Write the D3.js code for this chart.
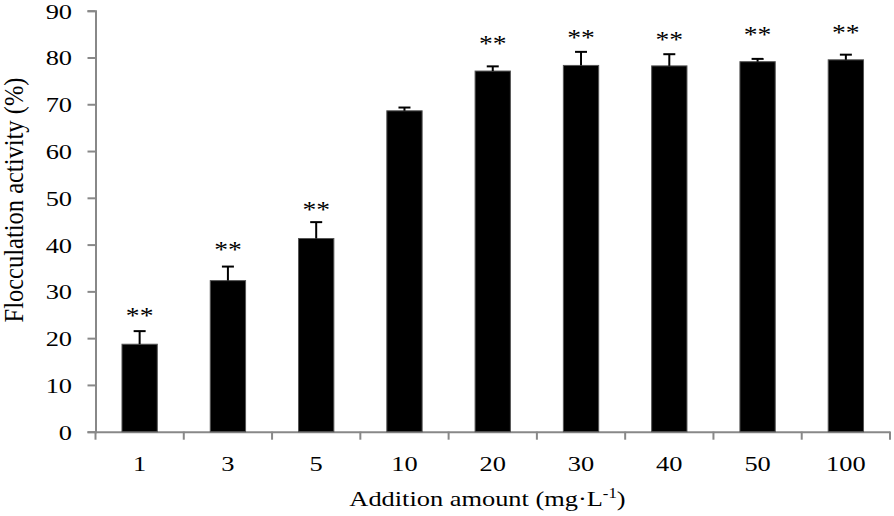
<!DOCTYPE html>
<html><head><meta charset="utf-8">
<script src="https://cdn.jsdelivr.net/npm/d3@7"></script>
<style>body{margin:0;background:#fff}svg{display:block}</style>
</head><body><svg id="c" width="894" height="516"></svg>
<script>
const categories = ["1","3","5","10","20","30","40","50","100"];
const values = [18.7, 32.3, 41.3, 68.6, 77.1, 78.3, 78.2, 79.1, 79.5];
const errors = [2.8, 3.0, 3.5, 0.7, 1.0, 2.9, 2.5, 0.6, 1.1];
const marks = ["**","**","**","","**","**","**","**","**"];
const markLevels = [23.3, 37.4, 46.0, 0, 81.3, 82.6, 82.3, 83.3, 83.7];
const yTicks = [0,10,20,30,40,50,60,70,80,90];

const svg = d3.select("#c");
const m = {l:95.5, r:4, t:10.7, b:84.3};
const W = 894, H = 516;
const font = "'Liberation Serif','Times New Roman',serif";
const sx = 1.2; // horizontal stretch of text as in reference
const x = d3.scaleBand().domain(categories).range([m.l, W - m.r]).paddingInner(0).paddingOuter(0);
const y = d3.scaleLinear().domain([0,90]).range([H - m.b, m.t]);
const bw = x.bandwidth() * 0.4;
const axisColor = "#888";

// y axis
const ya = svg.append("g").attr("transform", `translate(${m.l},0)`)
  .call(d3.axisLeft(y).tickValues(yTicks).tickSize(8).tickPadding(15));
ya.select(".domain").attr("stroke", axisColor).attr("stroke-width", 2);
ya.selectAll(".tick line").attr("stroke", axisColor).attr("stroke-width", 2);
ya.selectAll(".tick text").attr("font-family", font).attr("font-size", 22).attr("fill", "#000")
  .attr("dy", "0.34em").attr("x", -23.5 / sx).attr("transform", `scale(${sx},1)`);

// x axis
const xa = svg.append("g").attr("transform", `translate(0,${y(0)})`)
  .call(d3.axisBottom(x).tickSize(0).tickPadding(24));
xa.select(".domain").attr("stroke", axisColor).attr("stroke-width", 2);
xa.selectAll(".tick text").attr("font-family", font).attr("font-size", 22).attr("fill", "#000")
  .attr("transform", `scale(${sx},1)`);
// boundary ticks
const bounds = categories.map(c => x(c)).concat([x(categories[categories.length-1]) + x.bandwidth()]);
xa.selectAll(".btick").data(bounds).join("line").attr("class","btick")
  .attr("x1", d => d).attr("x2", d => d).attr("y1", 0).attr("y2", 8)
  .attr("stroke", axisColor).attr("stroke-width", 2);

// bars
const cx = c => x(c) + x.bandwidth()/2;
svg.append("g").selectAll("rect").data(categories).join("rect")
  .attr("x", c => cx(c) - bw/2).attr("width", bw)
  .attr("y", (c,i) => y(values[i])).attr("height", (c,i) => y(0) - y(values[i]))
  .attr("fill", "#000").attr("stroke", "#555").attr("stroke-width", 1);

// error bars
const eb = svg.append("g").attr("stroke", "#000").attr("stroke-width", 2);
categories.forEach((c,i) => {
  eb.append("line").attr("x1", cx(c)).attr("x2", cx(c)).attr("y1", y(values[i])).attr("y2", y(values[i]+errors[i]));
  eb.append("line").attr("x1", cx(c)-6).attr("x2", cx(c)+6).attr("y1", y(values[i]+errors[i])).attr("y2", y(values[i]+errors[i]));
});

// significance marks
svg.append("g").selectAll("g").data(categories).join("g")
  .attr("transform", (c,i) => `translate(${cx(c)},${y(markLevels[i])}) scale(1.15,1)`)
  .append("text")
  .attr("text-anchor", "middle").attr("font-family", font).attr("font-size", 24)
  .text((c,i) => marks[i]);

// axis titles
const xt = svg.append("g").attr("transform", `translate(487.5,506) scale(${sx},1)`)
  .append("text").attr("text-anchor", "middle").attr("font-family", font).attr("font-size", 22);
xt.append("tspan").text("Addition amount (mg·L");
xt.append("tspan").attr("font-size", 14).attr("dy", -8).text("-1");
xt.append("tspan").attr("dy", 8).text(")");

svg.append("g").attr("transform", `translate(23,200) rotate(-90)`)
  .append("text").attr("transform", "scale(1,1.1)")
  .attr("text-anchor", "middle").attr("font-family", font).attr("font-size", 24.5)
  .text("Flocculation activity (%)");
</script></body></html>
